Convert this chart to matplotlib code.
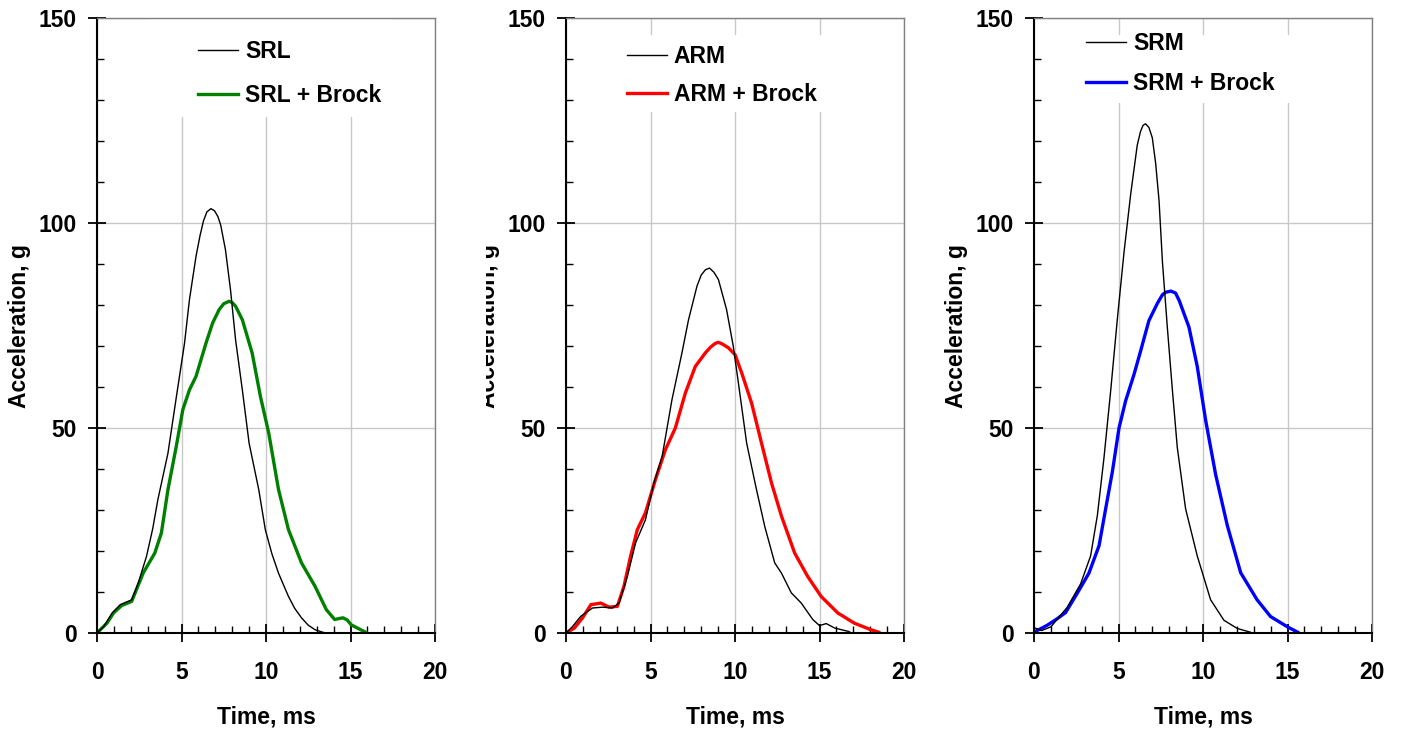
import matplotlib
matplotlib.use('Agg')
import matplotlib.pyplot as plt
from matplotlib.patches import Rectangle
from matplotlib.ticker import MultipleLocator
from matplotlib.transforms import Bbox, TransformedBbox

plt.rcParams['font.family'] = ['Liberation Sans', 'DejaVu Sans']
plt.rcParams['font.weight'] = 'bold'
plt.rcParams['font.size'] = 16.5

# SRL (panel 1)
t_srl = [0, 0.4, 0.9, 1.37, 2.05, 2.44, 2.93, 3.3, 3.6, 4.2, 4.7, 5.18, 5.47, 5.86, 6.1, 6.3,
         6.5, 6.74, 6.95, 7.15, 7.32, 7.6, 7.9, 8.2, 8.6, 9.0, 9.57, 9.96, 10.35, 10.74,
         11.33, 11.7, 12.1, 12.5, 12.9, 13.5]
a_srl = [0, 1.6, 4.9, 6.9, 8.1, 12.2, 18.7, 25.5, 32.5, 43.9, 57.7, 70.7, 81.3, 91.9, 97, 100.5,
         102.7, 103.5, 103, 101.6, 99.5, 93.5, 83.7, 71.5, 59.3, 46.3, 35, 25.2, 19.3, 14.6,
         8.9, 6.0, 3.7, 1.9, 0.8, 0]
t_srl_b = [0, 0.59, 0.98, 1.46, 2.05, 2.73, 3.42, 3.81, 4.2, 4.69, 5.08, 5.47, 5.86, 6.45,
           6.84, 7.23, 7.5, 7.81, 8.0, 8.2, 8.6, 9.18, 9.67, 10.16, 10.74, 11.33, 12.1, 12.9,
           13.57, 14.06, 14.3, 14.55, 14.8, 15.04, 15.6, 15.9]
a_srl_b = [0, 2.4, 4.9, 6.7, 7.7, 14.6, 19.5, 24.4, 35, 45.5, 54.5, 59.3, 62.6, 70.7,
           75.6, 78.9, 80.3, 80.9, 80.6, 79.7, 76.4, 68.3, 57.7, 48.8, 35, 25.2, 17.1, 11.4,
           5.7, 3.3, 3.5, 3.7, 3.2, 2.0, 0.8, 0.2]

# ARM (panel 2)
t_arm = [0, 0.39, 0.88, 1.57, 2.16, 2.75, 3.14, 3.63, 4.12, 4.7, 5.2, 5.69, 6.27, 6.86,
         7.25, 7.75, 8.0, 8.25, 8.49, 8.75, 9.02, 9.5, 9.9, 10.2, 10.69, 11.27, 11.76, 12.35,
         12.75, 13.33, 13.92, 14.6, 15.0, 15.4, 15.9, 16.7, 16.9]
a_arm = [0, 1.6, 4.1, 6.1, 6.3, 6.1, 7.3, 13.8, 22, 27.6, 36.6, 43.1, 56.9, 68.3,
         76.4, 84.6, 87.3, 88.6, 89, 88, 86.2, 78.9, 69.9, 61, 46.3, 35, 26, 17.1,
         14.6, 9.8, 7.3, 3.3, 1.8, 2.3, 1.2, 0.4, 0]
t_arm_b = [0, 0.49, 0.98, 1.47, 2.06, 2.55, 3.04, 3.43, 3.82, 4.22, 4.7, 5.29, 5.88, 6.47,
           7.06, 7.65, 8.24, 8.55, 8.82, 9.0, 9.2, 9.6, 10.0, 10.4, 10.98, 11.57, 12.16, 12.75,
           13.53, 14.3, 15.1, 16.08, 17.06, 18.04, 18.5]
a_arm_b = [0, 1.2, 3.7, 6.9, 7.3, 6.3, 6.5, 11.4, 18.7, 25.2, 29.3, 37.4, 44.7, 50,
           58.5, 65, 68.3, 69.7, 70.6, 70.9, 70.6, 69.6, 67.9, 63.4, 56.1, 46.3, 36.6, 28.5,
           19.5, 13.8, 8.9, 4.9, 2.4, 0.8, 0.2]

# SRM (panel 3)
t_srm = [0, 0.45, 1.0, 1.97, 2.76, 3.35, 3.75, 4.14, 4.54, 4.93, 5.33, 5.72, 6.11, 6.3, 6.45,
         6.6, 6.8, 7.0, 7.2, 7.4, 7.6, 7.9, 8.19, 8.48, 8.97, 9.66, 10.45, 11.24, 12.03, 12.8]
a_srm = [1.3, 0.6, 1.5, 6.3, 12, 18.8, 28.7, 42.7, 59.2, 76.5, 93, 107, 119, 122.3, 123.8,
         124.2, 123.3, 120.8, 114.5, 105.4, 90.5, 74, 59.2, 45.2, 30.3, 18.8, 8.1, 3.1, 1.1, 0.2]
t_srm_b = [0, 0.79, 1.38, 1.87, 2.56, 3.25, 3.85, 4.24, 4.64, 5.03, 5.42, 5.92, 6.31, 6.8,
           7.3, 7.6, 7.79, 8.1, 8.38, 8.6, 9.17, 9.66, 10.16, 10.75, 11.44, 12.23, 13.2,
           14.0, 15.0, 15.6]
a_srm_b = [0.2, 1.9, 3.5, 5, 9.7, 14.6, 21.3, 30.3, 39.4, 50, 56.6, 63.1, 68.8, 76.2,
           80.4, 82.5, 83.1, 83.4, 82.9, 81, 74.6, 65, 51.8, 38.6, 26.2, 14.7, 8.1,
           4, 1.5, 0.2]

panels = [
    dict(left=97, t1=t_srl, a1=a_srl, t2=t_srl_b, a2=a_srl_b, lab1='SRL', lab2='SRL + Brock',
         color='#008000', leg=(0.299, 0.965), lsp=0.95, box=(0.839, 1.0)),
    dict(left=566, t1=t_arm, a1=a_arm, t2=t_arm_b, a2=a_arm_b, lab1='ARM', lab2='ARM + Brock',
         color='#ff0000', leg=(0.180, 0.956), lsp=0.65, box=(0.847, 0.972)),
    dict(left=1034, t1=t_srm, a1=a_srm, t2=t_srm_b, a2=a_srm_b, lab1='SRM', lab2='SRM + Brock',
         color='#0000ff', leg=(0.154, 0.978), lsp=0.78, box=(0.862, 0.972)),
]

W, H = 1402, 733
fig = plt.figure(figsize=(W / 100, H / 100), dpi=100)

for i, p in enumerate(panels):
    ax = fig.add_axes([p['left'] / W, 100 / H, 338 / W, 615 / H])
    ax.set_axisbelow(True)
    ax.grid(True, which='major', color='#c8c8c8', lw=1.0)
    # white legend area hides the gridlines behind it
    y0, y1 = p['box']
    ax.add_patch(Rectangle((0.15, y0), 0.72, y1 - y0, transform=ax.transAxes,
                           facecolor='white', edgecolor='none', zorder=1))
    ax.plot(p['t1'], p['a1'], color='black', lw=1.0, label=p['lab1'], zorder=3)
    ax.plot(p['t2'], p['a2'], color=p['color'], lw=2.4, label=p['lab2'], zorder=2)

    ax.set_xlim(0, 20)
    ax.set_ylim(0, 150)
    ax.xaxis.set_major_locator(MultipleLocator(5))
    ax.xaxis.set_minor_locator(MultipleLocator(1))
    ax.yaxis.set_major_locator(MultipleLocator(50))
    ax.yaxis.set_minor_locator(MultipleLocator(10))
    ax.tick_params(which='major', direction='inout', length=13, width=1.3, color='black')
    ax.tick_params(which='minor', direction='in', length=5, width=1.0, color='black')
    ax.tick_params(axis='x', which='major', pad=14, labelsize=16.5)
    ax.tick_params(axis='y', which='major', pad=8, labelsize=16.5)

    for s in ('left', 'bottom'):
        ax.spines[s].set_color('black')
        ax.spines[s].set_linewidth(1.5)
    for s in ('top', 'right'):
        ax.spines[s].set_color('#808080')
        ax.spines[s].set_linewidth(1.0)

    ax.set_xlabel('Time, ms', fontsize=16.5, fontweight='bold', labelpad=15)
    ylab = ax.set_ylabel('Acceleration, g', fontsize=16.5, fontweight='bold')
    ax.yaxis.set_label_coords(-0.194, 0.5)
    if i == 1:
        # the middle label is cut off on its left side in the original
        ylab.set_clip_box(TransformedBbox(Bbox([[486 / W, 0], [1, 1]]), fig.transFigure))
        ylab.set_clip_on(True)

    ax.legend(loc='upper left', bbox_to_anchor=p['leg'], frameon=False, borderpad=0,
              borderaxespad=0, handlelength=1.75, handletextpad=0.3,
              labelspacing=p['lsp'], prop=dict(size=16.5, weight='bold'))

fig.savefig('out.png', dpi=100)
